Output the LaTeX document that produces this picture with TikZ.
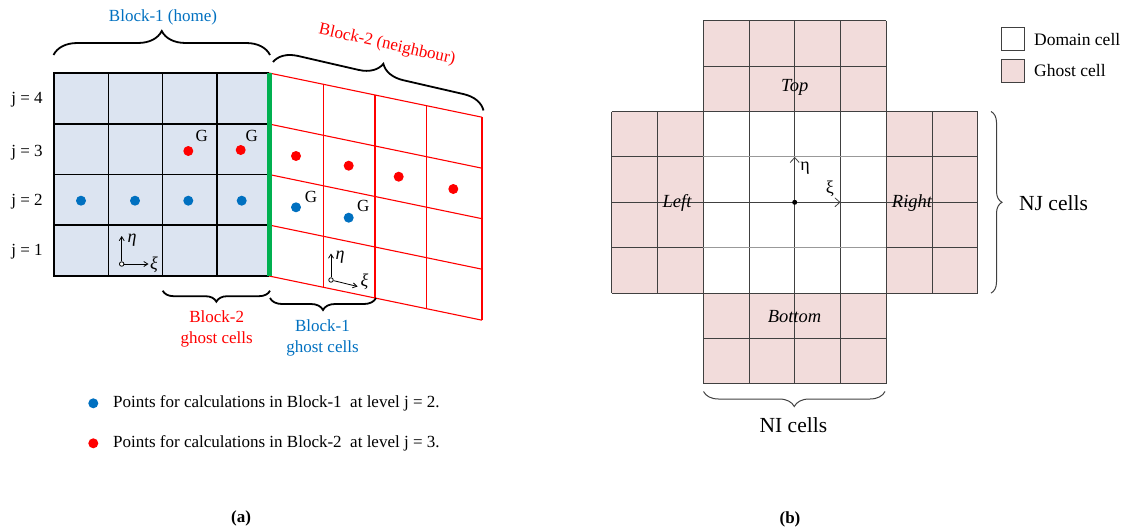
\documentclass[tikz,border=0pt]{standalone}
\usepackage{fontspec}
\setmainfont{Liberation Serif}
\usetikzlibrary{decorations.pathreplacing,arrows.meta}
\definecolor{myblue}{HTML}{0070C0}
\definecolor{myred}{HTML}{FF0000}
\definecolor{mygreen}{HTML}{00B050}
\definecolor{cellblue}{HTML}{DCE4F1}
\definecolor{ghostpink}{HTML}{F2DCDB}
\definecolor{gridgray}{HTML}{404040}
\begin{document}
\begin{tikzpicture}[x=1pt,y=-1pt,
  declare function={cx(\i)=611.7+45.75*\i; cy(\j)=20.7+45.4*\j; ry(\x,\y)=\y+0.2075*(\x-269);},
  txt/.style={font=\fontsize{17}{21}\selectfont, inner sep=0pt, align=center},
  bigtxt/.style={font=\fontsize{21.5}{25}\selectfont, inner sep=0pt},
  lbl/.style={font=\fontsize{18.5}{21}\selectfont\itshape, inner sep=0pt},
  bgrid/.style={line width=1.5pt, black},
  rgrid/.style={line width=1.1pt, myred},
  ggrid/.style={line width=0.9pt, gridgray},
  brc/.style={decorate, decoration={brace, amplitude=#1}, line width=1.8pt},
  brc/.default=12pt,
  thinbrc/.style={decorate, decoration={brace, amplitude=#1}, line width=1pt, gridgray},
  thinbrc/.default=12pt,
  bdot/.style={circle, fill=myblue, inner sep=0pt, minimum size=10pt},
  rdot/.style={circle, fill=myred, inner sep=0pt, minimum size=10pt},
  ocirc/.style={circle, draw, line width=0.8pt, fill=white, inner sep=0pt, minimum size=4.5pt},
  axarrow/.style={-{Straight Barb[length=4pt,width=5pt]}, line width=0.8pt},
  openarrow/.style={-{Straight Barb[length=5pt,width=9pt]}, line width=0.8pt, gridgray}
]
\useasboundingbox (0,0) rectangle (1133,527);

%% ---------------- (a) ----------------
% Block-1 (home)
\fill[cellblue] (54,73) rectangle (269,276);
\foreach \x in {108.3,162.7,217} \draw[bgrid] (\x,73) -- (\x,276);
\foreach \y in {124,174.7,225} \draw[bgrid] (54,\y) -- (269,\y);
\draw[bgrid] (269,73) -- (54,73) -- (54,276) -- (269,276);

% Block-2 (neighbour)
\foreach \y in {73,124,174.5,225,276} \draw[rgrid] (269,\y) -- (482,{ry(482,\y)});
\foreach \x in {323.3,375,426.7,482} \draw[rgrid] (\x,{ry(\x,73)}) -- (\x,{ry(\x,276)});

% interface
\draw[mygreen, line width=5pt] (269,73) -- (269,276);

% j labels
\node[txt] (j4) at (27,100) {j = 4};
\node[txt] (j3) at (27,153) {j = 3};
\node[txt] (j2) at (27,202) {j = 2};
\node[txt] (j1) at (27,252) {j = 1};

% dots
\node[bdot] (b1) at (81,200.7) {};
\node[bdot] (b2) at (135,200.7) {};
\node[bdot] (b3) at (188.3,200.7) {};
\node[bdot] (b4) at (241.7,200.7) {};
\node[bdot] (b5) at (296,207.3) {};
\node[bdot] (b6) at (348.7,217.7) {};
\node[rdot] (r1) at (188.3,151) {};
\node[rdot] (r2) at (240.7,150) {};
\node[rdot] (r3) at (296,156) {};
\node[rdot] (r4) at (348.7,165.7) {};
\node[rdot] (r5) at (398.7,176.7) {};
\node[rdot] (r6) at (453.3,189) {};

% G labels
\node[txt] (g1) at (201.7,136) {G};
\node[txt] (g2) at (251.7,136) {G};
\node[txt] (g3) at (311,196.7) {G};
\node[txt] (g4) at (363.3,206) {G};

% local axes, block 1
\node[ocirc] (o1) at (121.7,264) {};
\coordinate (e1) at (121.7,236);
\coordinate (x1) at (148.5,264);
\draw[axarrow] (o1) -- (e1);
\draw[axarrow] (o1) -- (x1);
\node[txt, font=\fontsize{18}{21}\selectfont\itshape] (eta1) at (132,240) {η};
\node[txt, font=\fontsize{18}{21}\selectfont\itshape] (xi1) at (154,265) {ξ};

% local axes, block 2
\node[ocirc] (o2) at (331,280) {};
\coordinate (e2) at (331,253.5);
\coordinate (x2) at (357.5,286.5);
\draw[axarrow] (o2) -- (e2);
\draw[axarrow] (o2) -- (x2);
\node[txt, font=\fontsize{18}{21}\selectfont\itshape] (eta2) at (340,257) {η};
\node[txt, font=\fontsize{18}{21}\selectfont\itshape] (xi2) at (364.5,282) {ξ};

% braces and block titles
\draw[brc=24pt] (53.5,55) -- (270,55);
\node[txt, text=myblue] (t1) at (163,17) {Block-1 (home)};
\draw[brc=23pt] (273,62) -- (483.5,110.5);
\node[txt, text=myred, rotate=-12.6] (t2) at (387,45) {Block-2 (neighbour)};
\draw[brc=11pt] (270,290.7) -- (162.7,290.7);
\node[txt, text=myred] (t3) at (216.7,329) {Block-2\\ghost cells};
\draw[brc=12pt] (376,298) -- (270,298);
\node[txt, text=myblue] (t4) at (322.5,337.5) {Block-1\\ghost cells};

% legend (a)
\node[bdot] (lb) at (93.3,403.3) {};
\node[txt, anchor=west] (lbt) at (113,403.3) {Points for calculations in Block-1\ \ at level j = 2.};
\node[rdot] (lr) at (93.3,443.3) {};
\node[txt, anchor=west] (lrt) at (113,443.3) {Points for calculations in Block-2\ \ at level j = 3.};

\node[txt, font=\fontsize{17}{21}\selectfont\bfseries] (capa) at (241,518) {(a)};

%% ---------------- (b) ----------------
\fill[ghostpink] ({cx(2)},{cy(0)}) rectangle ({cx(6)},{cy(2)});
\fill[ghostpink] ({cx(0)},{cy(2)}) rectangle ({cx(2)},{cy(6)});
\fill[ghostpink] ({cx(6)},{cy(2)}) rectangle ({cx(8)},{cy(6)});
\fill[ghostpink] ({cx(2)},{cy(6)}) rectangle ({cx(6)},{cy(8)});
\foreach \i in {2,...,6} \draw[ggrid] ({cx(\i)},{cy(0)}) -- ({cx(\i)},{cy(8)});
\foreach \i in {0,1,7,8} \draw[ggrid] ({cx(\i)},{cy(2)}) -- ({cx(\i)},{cy(6)});
\foreach \j in {0,1,7,8} \draw[ggrid] ({cx(2)},{cy(\j)}) -- ({cx(6)},{cy(\j)});
\foreach \j in {2,4,6} \draw[ggrid] ({cx(0)},{cy(\j)}) -- ({cx(8)},{cy(\j)});
\foreach \j in {3,5} {
  \draw[ggrid] ({cx(0)},{cy(\j)}) -- ({cx(2)},{cy(\j)});
  \draw[line width=0.9pt, gray!80] ({cx(2)},{cy(\j)}) -- ({cx(6)},{cy(\j)});
  \draw[ggrid] ({cx(6)},{cy(\j)}) -- ({cx(8)},{cy(\j)});
}

\node[lbl] (top) at (794.7,87) {Top};
\node[lbl] (left) at (677,203) {Left};
\node[lbl] (right) at (912,203) {Right};
\node[lbl] (bottom) at (794.5,317) {Bottom};

\node[circle, fill=black, inner sep=0pt, minimum size=5pt] (c) at ({cx(4)},{cy(4)}) {};
\coordinate (ce) at ({cx(4)},{cy(3)});
\coordinate (cx) at ({cx(5)},{cy(4)});
\draw[openarrow] (c) -- (ce);
\draw[openarrow] (c) -- (cx);
\node[txt, font=\fontsize{18}{21}\selectfont] (etab) at (805,168) {η};
\node[txt, font=\fontsize{18}{21}\selectfont] (xib) at (830,189) {ξ};

% legend (b)
\node[draw=gridgray, line width=0.9pt, fill=white, minimum width=22.6pt, minimum height=22.7pt, inner sep=0pt] (ldom) at (1013,38.65) {};
\node[draw=gridgray, line width=0.9pt, fill=ghostpink, minimum width=22.6pt, minimum height=23.4pt, inner sep=0pt] (lgh) at (1013,71) {};
\node[txt, anchor=west, font=\fontsize{17.5}{21}\selectfont] (ldomt) at (1034,39.5) {Domain cell};
\node[txt, anchor=west, font=\fontsize{17.5}{21}\selectfont] (lght) at (1034,71) {Ghost cell};

% NJ / NI braces
\draw[thinbrc=11pt] (991,111.5) -- (991,293.1);
\node[bigtxt, anchor=west] (nj) at (1019,203) {NJ cells};
\draw[thinbrc=15pt] (885,391.5) -- (703.5,391.5);
\node[bigtxt] (ni) at (793.4,425) {NI cells};

\node[txt, font=\fontsize{17}{21}\selectfont\bfseries] (capb) at (790,519) {(b)};
\end{tikzpicture}
\end{document}
